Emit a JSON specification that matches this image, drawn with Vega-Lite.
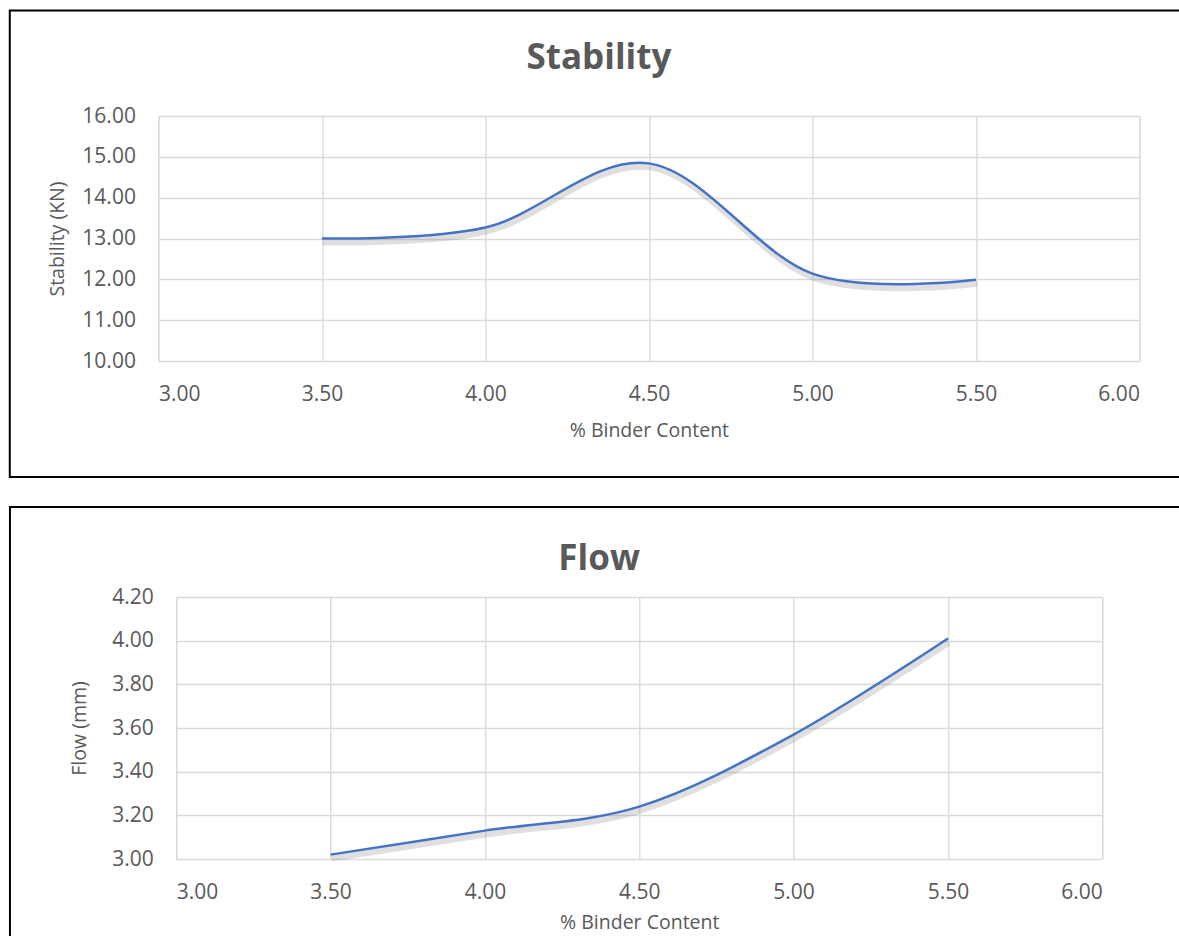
{
  "$schema": "https://vega.github.io/schema/vega-lite/v6.json",
  "padding": {"left": 8, "top": 8, "right": 0, "bottom": 0},
  "background": "white",
  "config": {
    "font": "Open Sans",
    "view": {"stroke": "#d9d9d9", "strokeWidth": 1},
    "axis": {
      "labelColor": "#595959", "titleColor": "#595959",
      "labelFontSize": 21, "titleFontSize": 19.5, "titleFontWeight": "normal",
      "labelFont": "Open Sans", "titleFont": "Open Sans",
      "gridColor": "#d9d9d9", "gridWidth": 1.3, "domain": false, "ticks": false
    },
    "title": {"color": "#595959", "fontSize": 35, "fontWeight": "bold", "frame": "bounds", "anchor": "middle", "font": "Open Sans"}
  },
  "datasets": {
    "stability": [
      {"binder": 3.5, "value": 13.00},
      {"binder": 4.0, "value": 13.27},
      {"binder": 4.5, "value": 14.84},
      {"binder": 5.0, "value": 12.14},
      {"binder": 5.5, "value": 11.99}
    ],
    "flow": [
      {"binder": 3.5, "value": 3.02},
      {"binder": 4.0, "value": 3.13},
      {"binder": 4.5, "value": 3.24},
      {"binder": 5.0, "value": 3.57},
      {"binder": 5.5, "value": 4.01}
    ]
  },
  "spacing": 26,
  "center": true,
  "vconcat": [
    {
      "width": 981,
      "height": 245,
      "title": {"text": "Stability", "offset": -95, "baseline": "alphabetic", "dx": -9},
      "layer": [
        {
          "data": {"values": [{}]},
          "mark": {"type": "rect", "fill": "white", "fillOpacity": 0, "stroke": "black", "strokeWidth": 2, "clip": false},
          "encoding": {
            "x": {"datum": 2.5455, "type": "quantitative", "scale": {"domain": [3, 6], "nice": false, "zero": false}},
            "x2": {"datum": 6.204},
            "y": {"datum": 18.584, "type": "quantitative", "scale": {"domain": [10, 16], "nice": false, "zero": false}},
            "y2": {"datum": 7.157}
          }
        },
        {
          "data": {"name": "stability"},
          "mark": {"type": "line", "interpolate": "cardinal", "tension": 0, "color": "#7f7f7f", "strokeWidth": 6, "opacity": 0.25, "yOffset": 4, "xOffset": 1},
          "encoding": {
            "x": {"field": "binder", "type": "quantitative"},
            "y": {"field": "value", "type": "quantitative"}
          }
        },
        {
          "data": {"name": "stability"},
          "mark": {"type": "line", "interpolate": "cardinal", "tension": 0, "color": "#4472C4", "strokeWidth": 2.5},
          "encoding": {
            "x": {
              "field": "binder", "type": "quantitative",
              "axis": {"title": "% Binder Content", "values": [3, 3.5, 4, 4.5, 5, 5.5, 6], "format": ".2f", "labelPadding": 22, "titlePadding": 17, "grid": true}
            },
            "y": {
              "field": "value", "type": "quantitative",
              "axis": {"title": "Stability (KN)", "values": [10, 11, 12, 13, 14, 15, 16], "format": ".2f", "labelPadding": 23, "titlePadding": 14, "grid": true}
            }
          }
        }
      ]
    },
    {
      "width": 926,
      "height": 262,
      "title": {"text": "Flow", "offset": -99, "baseline": "alphabetic"},
      "layer": [
        {
          "data": {"values": [{}]},
          "mark": {"type": "rect", "fill": "white", "fillOpacity": 0, "stroke": "black", "strokeWidth": 2, "clip": false},
          "encoding": {
            "x": {"datum": 2.4612, "type": "quantitative", "scale": {"domain": [3, 6], "nice": false, "zero": false}},
            "x2": {"datum": 6.2785},
            "y": {"datum": 4.6127, "type": "quantitative", "scale": {"domain": [3, 4.2], "nice": false, "zero": false}},
            "y2": {"datum": 2.54}
          }
        },
        {
          "data": {"name": "flow"},
          "mark": {"type": "line", "interpolate": "cardinal", "tension": 0, "color": "#7f7f7f", "strokeWidth": 6, "opacity": 0.25, "yOffset": 4, "xOffset": 1},
          "encoding": {
            "x": {"field": "binder", "type": "quantitative"},
            "y": {"field": "value", "type": "quantitative"}
          }
        },
        {
          "data": {"name": "flow"},
          "mark": {"type": "line", "interpolate": "cardinal", "tension": 0, "color": "#4472C4", "strokeWidth": 2.5},
          "encoding": {
            "x": {
              "field": "binder", "type": "quantitative",
              "axis": {"title": "% Binder Content", "values": [3, 3.5, 4, 4.5, 5, 5.5, 6], "format": ".2f", "labelPadding": 22, "titlePadding": 11, "grid": true}
            },
            "y": {
              "field": "value", "type": "quantitative",
              "axis": {"title": "Flow (mm)", "values": [3, 3.2, 3.4, 3.6, 3.8, 4, 4.2], "format": ".2f", "labelPadding": 23, "titlePadding": 22, "grid": true}
            }
          }
        }
      ]
    }
  ]
}
